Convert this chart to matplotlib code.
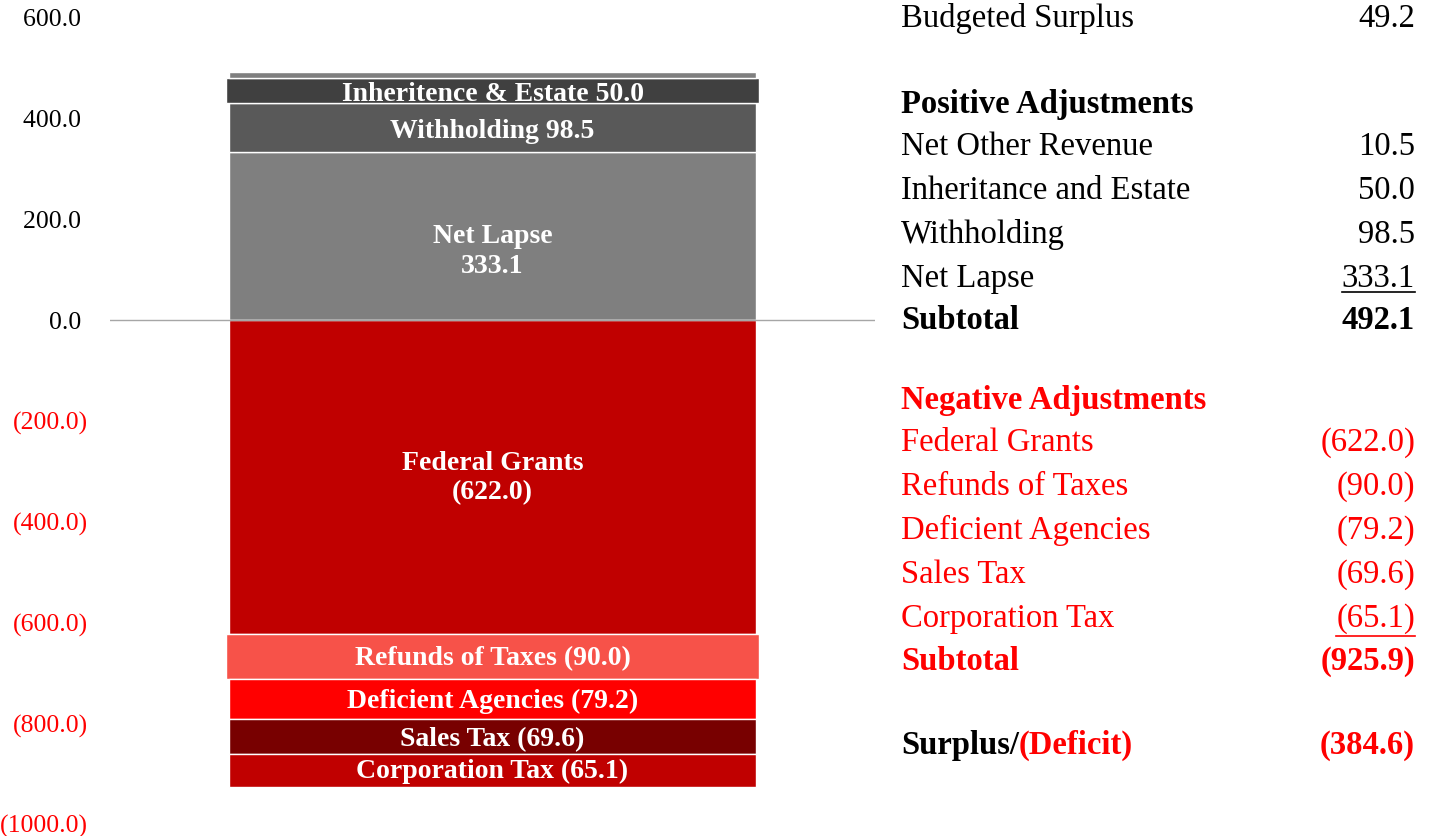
import matplotlib.pyplot as plt
from matplotlib.lines import Line2D

plt.rcParams['font.family'] = ['Liberation Serif', 'DejaVu Serif']

# Daten (Mio.)
budgeted_surplus = 49.2
pos_labels = ["Net Other Revenue", "Inheritance and Estate", "Withholding", "Net Lapse"]
pos_values = [10.5, 50.0, 98.5, 333.1]
neg_labels = ["Federal Grants", "Refunds of Taxes", "Deficient Agencies", "Sales Tax", "Corporation Tax"]
neg_values = [-622.0, -90.0, -79.2, -69.6, -65.1]

# Balken-Stapel (von der Null-Linie aus)
pos_stack_vals = [333.1, 98.5, 50.0, 10.5]
pos_colors = ["#7f7f7f", "#595959", "#404040", "#7f7f7f"]
pos_text = ["Net Lapse\n333.1", "Withholding 98.5", "Inheritence & Estate 50.0", ""]
pos_shift = [-30, -8, -8, 0]   # Textversatz in Dateneinheiten
pos_width = [1.38, 1.38, 1.395, 1.38]

neg_stack_vals = [-622.0, -90.0, -79.2, -69.6, -65.1]
neg_colors = ["#c00000", "#f75249", "#ff0000", "#780000", "#c00000"]
neg_text = ["Federal Grants\n(622.0)", "Refunds of Taxes (90.0)", "Deficient Agencies (79.2)",
            "Sales Tax (69.6)", "Corporation Tax (65.1)"]
neg_shift = [-2, -4, -6, -6, -2]
neg_width = [1.38, 1.395, 1.38, 1.38, 1.38]

yticks = [600, 400, 200, 0, -200, -400, -600, -800, -1000]

W, H = 1431, 836
fig = plt.figure(figsize=(W / 100, H / 100), dpi=100)
ax = fig.add_axes([110 / W, 12 / H, 765 / W, 806 / H])

def fmt(v):
    return f"({abs(v):.1f})" if v < 0 else f"{v:.1f} "

# positive Segmente
bottom = 0
for val, col, txt, sh, wd in zip(pos_stack_vals, pos_colors, pos_text, pos_shift, pos_width):
    ax.bar(0, val, bottom=bottom, width=wd, color=col, edgecolor="white", linewidth=1)
    if txt:
        ax.text(0, bottom + val / 2 + sh, txt, ha="center", va="center", color="white",
                fontsize=20, fontweight="bold", linespacing=1.25)
    bottom += val

# negative Segmente
bottom = 0
for val, col, txt, sh, wd in zip(neg_stack_vals, neg_colors, neg_text, neg_shift, neg_width):
    ax.bar(0, val, bottom=bottom, width=wd, color=col, edgecolor="white", linewidth=1)
    ax.text(0, bottom + val / 2 + sh, txt, ha="center", va="center", color="white",
            fontsize=20, fontweight="bold", linespacing=1.25)
    bottom += val

ax.axhline(0, color="#a6a6a6", linewidth=1)
ax.set_xlim(-1, 1)
ax.set_ylim(-1000, 600)
ax.set_xticks([])
ax.set_yticks(yticks)
ax.set_yticklabels([fmt(v) for v in yticks], fontsize=18.5)
for lab, v in zip(ax.get_yticklabels(), yticks):
    lab.set_color("red" if v < 0 else "black")
ax.tick_params(axis="y", length=0, pad=16)
for s in ax.spines.values():
    s.set_visible(False)

# Tabelle rechts
xl, xr = 901 / W, 1415 / W
fs = 23.5

def fy(py):
    return 1 - py / H

def row(label, value, py, color="black", bold=False):
    w = "bold" if bold else "normal"
    fig.text(xl, fy(py), label, ha="left", va="baseline", fontsize=fs, color=color, fontweight=w)
    if value is None:
        return None
    return fig.text(xr, fy(py), value, ha="right", va="baseline", fontsize=fs, color=color, fontweight=w)

def tfmt(v):
    return f"({abs(v):.1f})" if v < 0 else f"{v:.1f}"

row("Budgeted Surplus", tfmt(budgeted_surplus), 27)
row("Positive Adjustments", None, 113, bold=True)
t_last_pos = None
for i, (l, v) in enumerate(zip(pos_labels, pos_values)):
    t_last_pos = row(l, tfmt(v), 155 + 44 * i)
pos_sub = sum(pos_values)
row("Subtotal", tfmt(pos_sub), 329, bold=True)

row("Negative Adjustments", None, 409, color="red", bold=True)
t_last_neg = None
for i, (l, v) in enumerate(zip(neg_labels, neg_values)):
    t_last_neg = row(l, tfmt(v), 451 + 44 * i, color="red")
neg_sub = sum(neg_values)
row("Subtotal", tfmt(neg_sub), 670, color="red", bold=True)

total = budgeted_surplus + pos_sub + neg_sub
t1 = fig.text(xl, fy(754), "Surplus/", ha="left", va="baseline", fontsize=fs, fontweight="bold")
fig.text(xr, fy(754), tfmt(total), ha="right", va="baseline", fontsize=fs, fontweight="bold", color="red")

fig.canvas.draw()
r = fig.canvas.get_renderer()
bb = t1.get_window_extent(r)
fig.text(bb.x1 / W, fy(754), "(Deficit)", ha="left", va="baseline", fontsize=fs,
         fontweight="bold", color="red")

# Unterstreichungen
for t, py, col in [(t_last_pos, 292, "black"), (t_last_neg, 636, "red")]:
    b = t.get_window_extent(r)
    fig.add_artist(Line2D([b.x0 / W, b.x1 / W], [fy(py), fy(py)], color=col, linewidth=1.2))

fig.savefig("out.png", dpi=100)
